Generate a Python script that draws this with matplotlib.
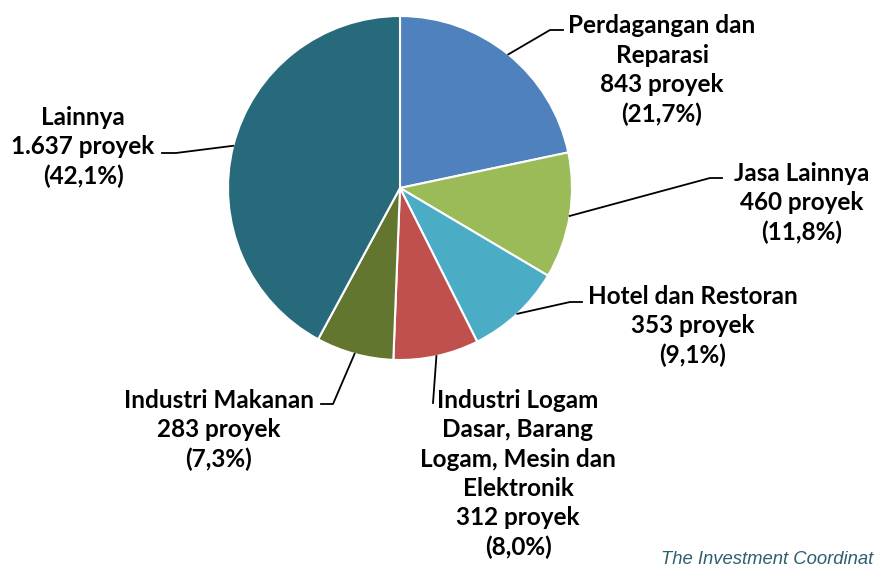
"""
Pie chart: jumlah proyek per sektor (share of projects by sector).
"""

import matplotlib.pyplot as plt
import numpy as np

# Data
sectors = [
    "Perdagangan dan\nReparasi",
    "Jasa Lainnya",
    "Hotel dan Restoran",
    "Industri Logam\nDasar, Barang\nLogam, Mesin dan\nElektronik",
    "Industri Makanan",
    "Lainnya",
]
projects = [843, 460, 353, 312, 283, 1637]
count_labels = ["843", "460", "353", "312", "283", "1.637"]
pct_labels = ["21,7%", "11,8%", "9,1%", "8,0%", "7,3%", "42,1%"]
colors = ["#4F81BD", "#9BBB59", "#4BACC6", "#C0504D", "#62762F", "#276A7C"]
source_note = "The Investment Coordinat"

W, H = 875, 567


def px(x, y):
    # pixel coords (origin top-left) -> data coords (origin bottom-left)
    return x, H - y


fig = plt.figure(figsize=(8.75, 5.67), dpi=100)
ax = fig.add_axes([0, 0, 1, 1])
ax.set_xlim(0, W)
ax.set_ylim(0, H)
ax.set_aspect("equal")
ax.axis("off")

cx, cy = px(400, 188)
radius = 172
wedges, _ = ax.pie(
    projects,
    colors=colors,
    startangle=90,
    counterclock=False,
    center=(cx, cy),
    radius=radius,
    wedgeprops=dict(edgecolor="white", linewidth=1.5),
)
ax.set_xlim(0, W)
ax.set_ylim(0, H)

# label layout: elbow point, end of horizontal stub, text block centre
layout = [
    ((550, 30), (563, 30), (662, 70)),
    ((710, 178), (722, 178), (802, 203)),
    ((570, 302), (582, 302), (693, 326)),
    ((433, 403), (433, 403), (518, 474)),
    ((333, 404), (321, 404), (219, 430)),
    ((176, 153), (162, 153), (83, 147)),
]

for w, name, cnt, pct, (elbow, stub, tpos) in zip(
    wedges, sectors, count_labels, pct_labels, layout
):
    ang = np.deg2rad((w.theta1 + w.theta2) / 2)
    x0 = cx + radius * np.cos(ang)
    y0 = cy + radius * np.sin(ang)
    ex, ey = px(*elbow)
    sx, sy = px(*stub)
    ax.plot([x0, ex, sx], [y0, ey, sy], color="black", lw=1.3, zorder=3)
    tx, ty = px(*tpos)
    ax.text(
        tx,
        ty,
        f"{name}\n{cnt} proyek\n({pct})",
        ha="center",
        va="center",
        multialignment="center",
        fontsize=17.5,
        fontweight="bold",
        family="Lato",
        linespacing=1.33,
        color="black",
    )

# Source note (cut off at the right edge as in the original)
fig.text(
    661 / W,
    (H - 564) / H,
    source_note,
    ha="left",
    va="baseline",
    fontsize=13.3,
    style="italic",
    family="Liberation Sans",
    color="#2E5F6E",
)

fig.savefig("out.png", dpi=100)
